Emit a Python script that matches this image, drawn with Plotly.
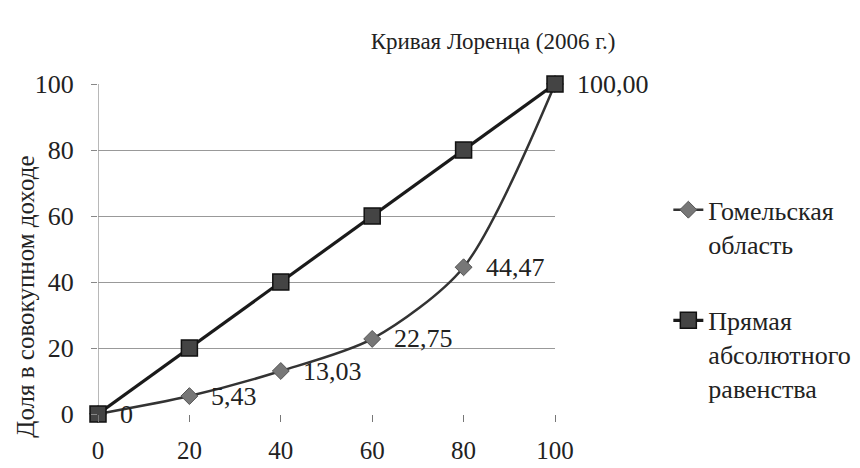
import plotly.graph_objects as go

x_vals = [0, 20, 40, 60, 80, 100]
gomel = [0, 5.43, 13.03, 22.75, 44.47, 100.00]
gomel_labels = ["0", "5,43", "13,03", "22,75", "44,47", "100,00"]
equality = [0, 20, 40, 60, 80, 100]
x_ticks = [0, 20, 40, 60, 80, 100]
y_ticks = [0, 20, 40, 60, 80, 100]

FONT = "Liberation Serif"
TXT = "#222222"

fig = go.Figure()

fig.add_trace(go.Scatter(
    x=x_vals, y=gomel, name="Гомельская<br>область", legendgroup="g1",
    mode="lines+markers",
    line=dict(color="#333333", width=2.5, shape="spline", smoothing=0.8),
    marker=dict(symbol="diamond", size=13, color="#777777", line=dict(color="#555555", width=1)),
    cliponaxis=False,
))
fig.add_trace(go.Scatter(
    x=x_vals, y=equality, name="Прямая<br>абсолютного<br>равенства", legendgroup="g2",
    mode="lines+markers", line=dict(color="#1a1a1a", width=3.2),
    marker=dict(symbol="square", size=16, color="#444444", line=dict(color="#111111", width=1.5)),
    cliponaxis=False,
))

for xv, yv, lab in zip(x_vals, gomel, gomel_labels):
    fig.add_annotation(x=xv, y=yv, xref="x", yref="y", text=lab, showarrow=False,
                       xanchor="left", yanchor="middle", xshift=20,
                       font=dict(family=FONT, size=26, color=TXT))

fig.add_annotation(x=-0.158, y=0.355, xref="paper", yref="paper", text="Доля в совокупном доходе",
                   textangle=-90, showarrow=False, xanchor="center", yanchor="middle",
                   font=dict(family=FONT, size=25, color=TXT))

fig.update_layout(
    width=860, height=468,
    margin=dict(l=90, r=313, t=76, b=57),
    paper_bgcolor="white", plot_bgcolor="white",
    font=dict(family=FONT, size=25, color=TXT),
    title=dict(text="Кривая Лоренца (2006 г.)", x=0.564, xanchor="center", y=0.93, yanchor="middle",
               font=dict(family=FONT, size=23, color=TXT)),
    showlegend=True,
    legend=dict(x=1.248, y=0.69, xanchor="left", yanchor="top", valign="top",
                traceorder="grouped", tracegroupgap=40,
                font=dict(family=FONT, size=26, color=TXT)),
    xaxis=dict(range=[0, 100], tickvals=x_ticks, ticks="outside", ticklen=7, tickcolor="#777777",
               showgrid=False, zeroline=False, showline=False, ticklabelstandoff=7,
               tickfont=dict(family=FONT, size=25), fixedrange=True),
    yaxis=dict(range=[0, 100], tickvals=y_ticks, ticks="outside", ticklen=6, tickcolor="#888888",
               showgrid=True, gridcolor="#999999", gridwidth=1.2, zeroline=False,
               showline=False, ticklabelstandoff=12, tickfont=dict(family=FONT, size=26),
               fixedrange=True),
)
fig.add_shape(type="line", xref="x", yref="paper", x0=0, x1=0, y0=0, y1=1,
              line=dict(color="#888888", width=1.2), layer="below")

fig.write_html("out.html")
